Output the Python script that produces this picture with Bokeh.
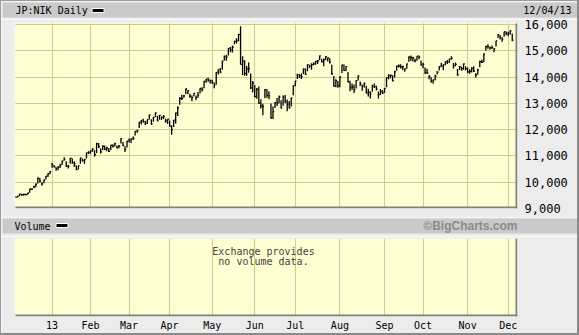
import pandas as pd
from bokeh.plotting import figure
from bokeh.layouts import column
from bokeh.models import (FixedTicker, NumeralTickFormatter, Grid, BoxAnnotation,
                          Label, Range1d, ColumnDataSource)
from bokeh.embed import file_html
from bokeh.resources import INLINE

# ---------------- data (JP:NIK daily, 2012-12-04 .. 2013-12-04) ----------------
close = [
    9432, 9468, 9545, 9527, 9533, 9525, 9581, 9742, 9737, 9828, 9923, 10160, 10039, 9940, 10080, 10230, 10322, 10395,
    10688, 10599, 10508, 10578, 10652, 10801, 10879, 10600, 10610, 10913, 10747, 10710, 10486, 10620, 10926, 10824, 10866, 11113, 11138,
    11191, 11260, 11046, 11463, 11357, 11153, 11369, 11251, 11307, 11173, 11408, 11372, 11468, 11309, 11385, 11662, 11398, 11254, 11559,
    11606, 11652, 11683, 11932, 11968, 12283, 12349, 12314, 12239, 12381, 12560, 12220, 12468, 12635, 12338, 12546, 12471, 12493, 12335, 12397,
    12135, 12003, 12362, 12634, 12833, 13192, 13192, 13288, 13549, 13485, 13275, 13221, 13382, 13220, 13316, 13568, 13529, 13843, 13926, 13884, 13860,
    13799, 13694, 14180, 14285, 14191, 14607, 14782, 14758, 15096, 15037, 15138, 15360, 15381, 15627, 14483, 14612, 14142, 14311, 14326, 13589, 13774,
    13261, 13533, 13014, 12904, 12877, 13514, 13317, 13289, 12445, 12686, 13033, 13007, 13245, 12834, 13230, 13062, 12969, 12834, 13213, 13677,
    13852, 14099, 14055, 14018, 14309, 14109, 14473, 14416, 14472, 14506, 14599, 14615, 14808, 14589, 14658, 14778, 14731, 14562, 14129, 13661, 13869, 13668,
    14006, 14466, 14258, 14401, 13825, 13605, 13615, 13519, 13868, 14050, 13753, 13651, 13758, 13397, 13424, 13366, 13661, 13636, 13542, 13338, 13459, 13389,
    13573, 13978, 14054, 14065, 13861, 14205, 14423, 14425, 14388, 14405, 14311, 14505, 14766, 14742, 14733, 14620, 14799, 14760, 14456,
    14485, 14170, 14157, 14024, 13853, 13894, 14037, 14194, 14404, 14441, 14467, 14586, 14561, 14693, 14713, 14426, 14486, 14088, 14396, 14325, 14502, 14327,
    14201, 14225, 14337, 14228, 14086, 14269, 14588, 14567, 14876, 15166, 15165, 15127, 15126, 15076, 15382, 15620, 15516, 15450, 15728, 15662,
    15655, 15750, 15408,
]
high = [
    9470, 9480, 9560, 9560, 9560, 9560, 9600, 9750, 9760, 9870, 9950, 10180, 10160, 10000, 10100, 10240, 10340, 10430,
    10730, 10660, 10580, 10620, 10700, 10830, 10950, 10800, 10670, 10920, 10900, 10800, 10650, 10640, 10930, 10900, 10880, 11120, 11180,
    11210, 11290, 11220, 11500, 11490, 11290, 11400, 11400, 11350, 11300, 11410, 11450, 11500, 11400, 11420, 11670, 11530, 11370, 11570,
    11660, 11660, 11740, 11940, 12000, 12290, 12370, 12420, 12330, 12390, 12570, 12400, 12480, 12650, 12530, 12560, 12500, 12560, 12420, 12400,
    12350, 12170, 12370, 12650, 12890, 13230, 13330, 13320, 13570, 13500, 13370, 13300, 13400, 13300, 13430, 13580, 13620, 13850, 13930, 13980, 13910,
    13900, 13800, 14200, 14300, 14350, 14620, 14820, 14850, 15110, 15150, 15200, 15390, 15480, 15640, 15942, 14800, 14640, 14420, 14560, 14140, 13850,
    13700, 13590, 13640, 13160, 12990, 13550, 13550, 13460, 13000, 12880, 13050, 13210, 13300, 13120, 13300, 13320, 13150, 13090, 13220, 13680,
    13860, 14130, 14110, 14150, 14330, 14330, 14480, 14470, 14530, 14570, 14610, 14650, 14820, 14700, 14710, 14800, 14750, 14720, 14470, 14040, 13920, 13850,
    14020, 14470, 14480, 14410, 14200, 13860, 13760, 13720, 13880, 14060, 13830, 13720, 13800, 13670, 13560, 13460, 13710, 13760, 13670, 13450, 13550, 13500,
    13590, 13990, 14110, 14100, 14070, 14240, 14430, 14480, 14490, 14420, 14330, 14510, 14790, 14820, 14780, 14700, 14800, 14820, 14630,
    14550, 14370, 14320, 14070, 14000, 13910, 14090, 14230, 14420, 14550, 14480, 14600, 14650, 14700, 14800, 14540, 14560, 14310, 14420, 14400, 14520, 14410,
    14370, 14300, 14380, 14410, 14150, 14320, 14620, 14660, 14900, 15190, 15250, 15160, 15200, 15100, 15390, 15630, 15600, 15520, 15730, 15740,
    15730, 15790, 15660,
]
low = [
    9400, 9420, 9470, 9490, 9490, 9500, 9520, 9600, 9700, 9770, 9810, 9950, 9990, 9880, 9960, 10100, 10200, 10300,
    10550, 10560, 10440, 10460, 10540, 10660, 10820, 10580, 10520, 10700, 10700, 10580, 10460, 10480, 10700, 10790, 10700, 10900, 11070,
    11080, 11160, 10980, 11110, 11300, 11090, 11220, 11230, 11180, 11150, 11220, 11320, 11360, 11290, 11290, 11470, 11380, 11150, 11320,
    11510, 11490, 11610, 11780, 11880, 12060, 12200, 12260, 12180, 12220, 12390, 12190, 12300, 12480, 12330, 12380, 12370, 12410, 12260, 12220,
    12120, 11810, 12100, 12240, 12520, 12950, 13130, 13220, 13350, 13350, 13220, 13080, 13270, 13130, 13220, 13380, 13450, 13580, 13790, 13820, 13760,
    13740, 13580, 13710, 14100, 14150, 14280, 14630, 14620, 14820, 14950, 14940, 15250, 15280, 15370, 14480, 14080, 14050, 14050, 14170, 13550, 13420,
    13230, 13180, 12990, 12810, 12550, 13200, 13220, 13160, 12420, 12410, 12830, 12900, 13010, 12810, 12910, 13020, 12700, 12810, 12880, 13310,
    13650, 13930, 13970, 13930, 14110, 14090, 14220, 14350, 14280, 14450, 14470, 14500, 14640, 14560, 14410, 14640, 14600, 14520, 14090, 13640, 13620, 13600,
    13620, 14160, 14230, 14220, 13800, 13460, 13510, 13400, 13570, 13870, 13660, 13480, 13610, 13390, 13260, 13190, 13440, 13590, 13490, 13190, 13320, 13360,
    13400, 13620, 13920, 13960, 13840, 13990, 14240, 14370, 14330, 14260, 14210, 14320, 14590, 14610, 14600, 14570, 14620, 14680, 14440,
    14340, 14120, 14120, 13920, 13790, 13750, 13880, 14100, 14250, 14380, 14260, 14450, 14500, 14550, 14660, 14330, 14410, 14050, 14270, 14240, 14280, 14250,
    14150, 14130, 14180, 14200, 13990, 14090, 14380, 14540, 14570, 15000, 15080, 15040, 15070, 14950, 15170, 15490, 15430, 15350, 15540, 15590,
    15560, 15620, 15370,
]
holidays = ["2012-12-24", "2012-12-31", "2013-01-01", "2013-01-02", "2013-01-03", "2013-01-14",
            "2013-02-11", "2013-03-20", "2013-04-29", "2013-05-03", "2013-05-06", "2013-07-15",
            "2013-09-16", "2013-09-23", "2013-10-14", "2013-11-04"]
month_labels = ["13", "Feb", "Mar", "Apr", "May", "Jun", "Jul", "Aug", "Sep", "Oct", "Nov", "Dec"]
price_ticks = [9000, 10000, 11000, 12000, 13000, 14000, 15000, 16000]

dates = [d for d in pd.bdate_range("2012-12-04", "2013-12-04") if d.strftime("%Y-%m-%d") not in holidays]
assert len(dates) == len(close) == len(high) == len(low)
idx = list(range(len(dates)))
month_idx = [i for i in idx if i > 0 and dates[i].month != dates[i - 1].month]

src = ColumnDataSource(dict(x=idx, x1=[i + 0.6 for i in idx], high=high, low=low, close=close))

# ---------------- styling ----------------
BG = "#ececec"
BAR = "#cacaca"
PLOT_BG = "#fffdd2"
GRID = "#cfca8e"
MONO = "DejaVu Sans Mono"
W = 576          # inner width (page has a 1px/2px CSS border around it)
OX, OY = 1, 1    # image offset of the inner area

xr = Range1d(-0.5, 247.6)


def strip(y0, y1):
    """A figure covering image rows y0..y1 whose data units are image pixels."""
    f = figure(width=W, height=y1 - y0, x_range=Range1d(OX, OX + W), y_range=Range1d(y1, y0),
               output_backend="svg", toolbar_location=None, x_axis_location=None,
               y_axis_location=None, min_border=0, min_border_left=0, min_border_right=0,
               min_border_top=0, min_border_bottom=0, frame_align=False,
               background_fill_color=BG, border_fill_color=BG, outline_line_color=None)
    for g in f.grid:
        g.visible = False
    return f


def txt(f, x, y, text, align="left", font=MONO, size="10px", color="black", style="normal"):
    f.add_layout(Label(x=x, y=y, text=text, text_font=font, text_font_size=size,
                       text_color=color, text_font_style=style, text_align=align,
                       text_baseline="middle"))


def frame_shade(f, fw, fh):
    # darker bottom/right edge, light top/left edge (screen units, frame relative)
    for l, r, b, t, c in [(0, fw, 0, 2, "#808080"), (fw - 2, fw, 0, fh, "#808080"),
                          (0, fw, fh - 1, fh, "#f4f4f4"), (0, 1, 0, fh, "#f4f4f4")]:
        f.add_layout(BoxAnnotation(left=l, right=r, bottom=b, top=t, left_units="screen",
                                   right_units="screen", top_units="screen",
                                   bottom_units="screen", fill_color=c, fill_alpha=1.0,
                                   line_alpha=0))


# ---------------- header strip ----------------
h1 = strip(1, 19)
h1.quad(left=[2], right=[577], top=[2], bottom=[17], fill_color=BAR, line_color=None)
txt(h1, 15, 10, "JP:NIK Daily")
h1.quad(left=[91.5], right=[103.5], top=[8], bottom=[12], fill_color="black", line_color="white")
txt(h1, 571, 10, "12/04/13", align="right")

# ---------------- price panel (image rows 19..217) ----------------
P0, P1 = 19, 217
PFT, PFB = 22, 208
p = figure(width=W, height=P1 - P0, x_range=xr, y_range=Range1d(9000, 16080),
           output_backend="svg", toolbar_location=None, x_axis_location=None,
           y_axis_location="right", min_border_left=14 - OX, min_border_right=OX + W - 517,
           min_border_top=PFT - P0, min_border_bottom=P1 - PFB, frame_align=False,
           background_fill_color=PLOT_BG, border_fill_color=BG, outline_line_color=None)
for g in p.xgrid:
    g.visible = False
p.yaxis.ticker = FixedTicker(ticks=price_ticks)
p.yaxis.formatter = NumeralTickFormatter(format="0,0")
p.yaxis.major_tick_out = 0
p.yaxis.major_tick_in = 0
p.yaxis.minor_tick_out = 0
p.yaxis.minor_tick_in = 0
p.yaxis.axis_line_color = None
p.yaxis.major_label_standoff = 7
p.yaxis.major_label_text_font = MONO
p.yaxis.major_label_text_font_size = "12px"
p.yaxis.major_label_text_color = "black"
p.ygrid.grid_line_color = GRID
p.add_layout(Grid(dimension=0, ticker=FixedTicker(ticks=month_idx), grid_line_color=GRID))

p.segment(x0="x", y0="low", x1="x", y1="high", source=src, line_color="black", line_width=1.3)
p.segment(x0="x", y0="close", x1="x1", y1="close", source=src, line_color="black", line_width=1.3)
frame_shade(p, 517 - 14, PFB - PFT)

# ---------------- volume header strip ----------------
h2 = strip(217, 236)
h2.quad(left=[2], right=[577], top=[218], bottom=[233], fill_color=BAR, line_color=None)
txt(h2, 14, 225.5, "Volume")
h2.quad(left=[55.5], right=[67.5], top=[223], bottom=[227], fill_color="black", line_color="white")
txt(h2, 517, 225.5, "\u00a9BigCharts.com", align="right", font="Liberation Sans",
    size="12px", color="#8a8a8a", style="bold")

# ---------------- volume panel (image rows 236..333) ----------------
V0, V1 = 236, 333
VFT, VFB = 238, 317
v = figure(width=W, height=V1 - V0, x_range=xr, y_range=Range1d(0, 1),
           output_backend="svg", toolbar_location=None, y_axis_location=None,
           min_border_left=14 - OX, min_border_right=OX + W - 517,
           min_border_top=VFT - V0, min_border_bottom=V1 - VFB, frame_align=False,
           background_fill_color=PLOT_BG, border_fill_color=BG, outline_line_color=None)
for g in v.ygrid:
    g.visible = False
v.xaxis.ticker = FixedTicker(ticks=month_idx)
v.xaxis.major_label_overrides = {i: lab for i, lab in zip(month_idx, month_labels)}
v.xaxis.major_tick_out = 0
v.xaxis.major_tick_in = 0
v.xaxis.minor_tick_out = 0
v.xaxis.minor_tick_in = 0
v.xaxis.axis_line_color = None
v.xaxis.major_label_standoff = 3
v.xaxis.major_label_text_font = MONO
v.xaxis.major_label_text_font_size = "10px"
v.xaxis.major_label_text_color = "black"
v.xgrid.grid_line_color = GRID
frame_shade(v, 517 - 14, VFB - VFT)
v.add_layout(Label(x=263 - 14, y=VFB - 252, x_units="screen", y_units="screen",
                   text="Exchange provides", text_font=MONO, text_font_size="10px",
                   text_align="center", text_baseline="middle"))
v.add_layout(Label(x=263 - 14, y=VFB - 262, x_units="screen", y_units="screen",
                   text="no volume data.", text_font=MONO, text_font_size="10px",
                   text_align="center", text_baseline="middle"))

layout = column(h1, p, h2, v, spacing=0,
                styles={"border-style": "solid",
                        "border-color": "#9a9a9a #8a8a8a #8a8a8a #9a9a9a",
                        "border-width": "1px 2px 2px 1px"})
open("out.html", "w").write(file_html(layout, INLINE))
